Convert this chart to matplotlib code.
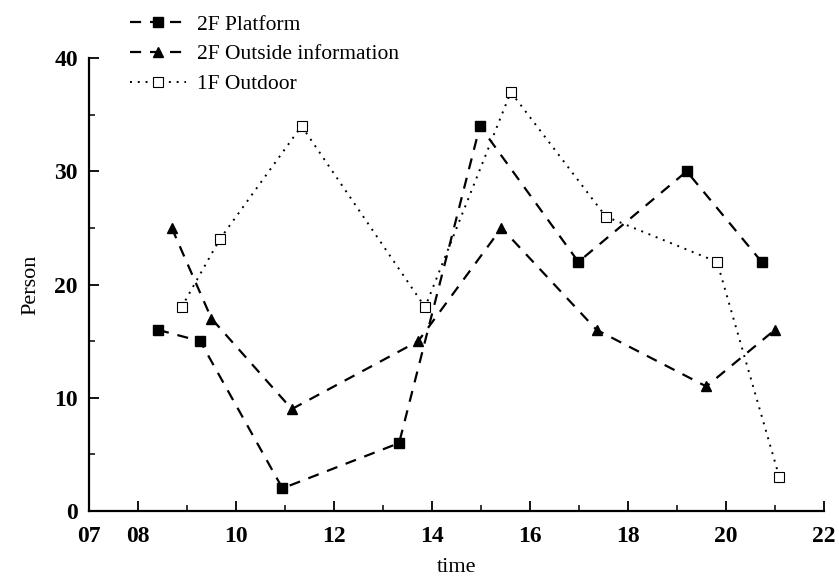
import numpy as np
import matplotlib.pyplot as plt
from matplotlib.ticker import FixedLocator, MultipleLocator

# values
platform_t = [8.41, 9.27, 10.95, 13.33, 14.98, 16.99, 19.2, 20.73]
platform_n = [16, 15, 2, 6, 34, 22, 30, 22]

outside_t = [8.69, 9.5, 11.14, 13.72, 15.42, 17.36, 19.6, 21.0]
outside_n = [25, 17, 9, 15, 25, 16, 11, 16]

outdoor_t = [8.89, 9.67, 11.34, 13.86, 15.61, 17.55, 19.82, 21.09]
outdoor_n = [18, 24, 34, 18, 37, 26, 22, 3]

xticks = [7, 8, 10, 12, 14, 16, 18, 20, 22]
xticklabels = ["07", "08", "10", "12", "14", "16", "18", "20", "22"]

plt.rcParams['font.family'] = ['Liberation Serif', 'DejaVu Serif']

fig = plt.figure(figsize=(8.39, 5.87), dpi=100)
ax = fig.add_axes([0.106, 0.1295, 0.876, 0.7715])

l1, = ax.plot(platform_t, platform_n, color='black', linestyle=(0, (5, 4)), lw=1.6,
              marker='s', markersize=6.5, markerfacecolor='black', label='2F Platform')
l2, = ax.plot(outside_t, outside_n, color='black', linestyle=(0, (5, 4)), lw=1.6,
              marker='^', markersize=7.5, markerfacecolor='black', label='2F Outside information')
l3, = ax.plot(outdoor_t, outdoor_n, color='black', linestyle=(0, (1, 3)), lw=1.4,
              marker='s', markersize=6.5, markerfacecolor='white', markeredgewidth=0.8,
              label='1F Outdoor')

ax.set_xlim(7, 22)
ax.set_ylim(0, 40)
ax.xaxis.set_major_locator(FixedLocator(xticks))
ax.set_xticklabels(xticklabels)
ax.xaxis.set_minor_locator(FixedLocator([9, 11, 13, 15, 17, 19, 21]))
ax.yaxis.set_major_locator(MultipleLocator(10))
ax.yaxis.set_minor_locator(MultipleLocator(5))

for s in ['top', 'right']:
    ax.spines[s].set_visible(False)
for s in ['left', 'bottom']:
    ax.spines[s].set_linewidth(1.6)

ax.tick_params(which='major', direction='in', length=7, width=1.3, labelsize=17, pad=8)
ax.tick_params(axis='x', which='major', pad=11)
ax.tick_params(which='minor', direction='in', length=4, width=1.1)
for lab in ax.get_xticklabels() + ax.get_yticklabels():
    lab.set_fontweight('bold')

ax.set_xlabel('time', fontsize=16, labelpad=8)
ax.set_ylabel('Person', fontsize=16, labelpad=10)

fig.legend(handles=[l1, l2, l3], loc='upper left', bbox_to_anchor=(0.145, 0.99),
           frameon=False, fontsize=15.5, handlelength=2.6, handletextpad=0.5,
           labelspacing=0.45, borderaxespad=0)

fig.savefig('out.png', dpi=100)
